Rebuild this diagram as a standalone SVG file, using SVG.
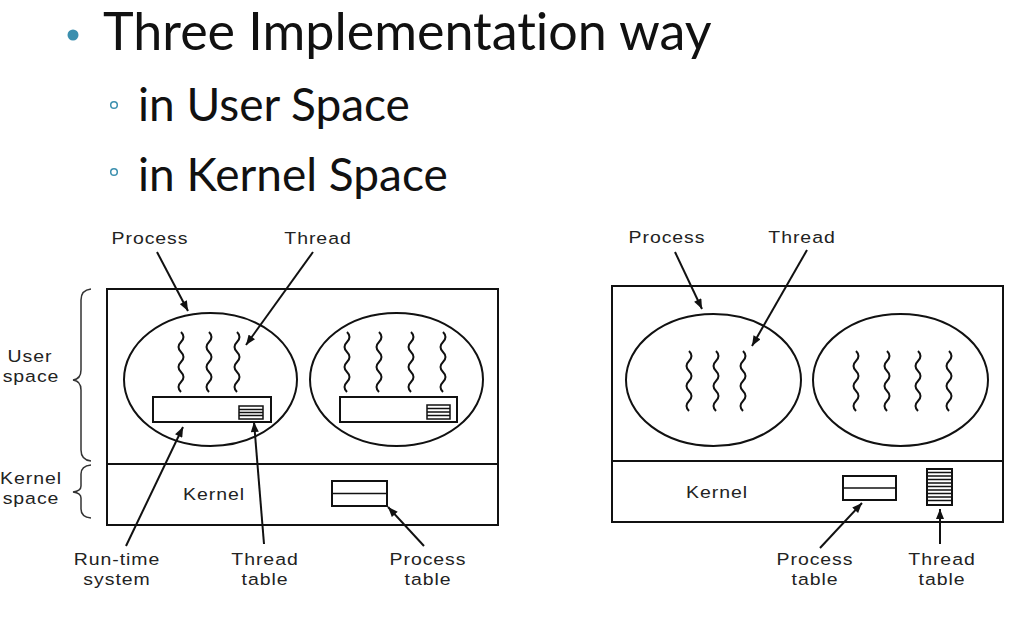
<svg xmlns="http://www.w3.org/2000/svg" width="1027" height="630" viewBox="0 0 1027 630">
  <defs>
    <marker id="arrow" viewBox="0 0 10 8" refX="10" refY="4" markerWidth="11" markerHeight="8" markerUnits="userSpaceOnUse" orient="auto">
      <path d="M0,0 L10,4 L0,8 z" fill="#111"/>
    </marker>
    <!-- one vertical wavy thread, 60px tall -->
    <path id="wave" d="M0,0 q5,5 0,10 t0,10 t0,10 t0,10 t0,10 t0,10" fill="none" stroke="#111" stroke-width="2"/>
  </defs>
  <style>
    .head { font-family: "Lato", "Open Sans", sans-serif; fill: #111; font-variant-ligatures: none; }
    .lbl { font-family: "Liberation Sans", Arial, sans-serif; font-size: 16.5px; letter-spacing: 0.8px; fill: #222; text-anchor: middle; }
    .box { fill: none; stroke: #111; stroke-width: 2; }
    .tbl { fill: #fff; stroke: #111; stroke-width: 2; }
    .thin { fill: none; stroke: #111; stroke-width: 1.5; }
    .conn { fill: none; stroke: #111; stroke-width: 2; marker-end: url(#arrow); }
    .brace { fill: none; stroke: #333; stroke-width: 1.5; }
  </style>
  <rect width="1027" height="630" fill="#fff"/>

  <!-- slide heading -->
  <g id="heading">
    <circle cx="73" cy="35" r="5.5" fill="#3b8fae"/>
    <text class="head" x="103" y="50" font-size="52">Three Implementation way</text>
    <circle cx="114" cy="105" r="3.3" fill="none" stroke="#3b8fae" stroke-width="1.5"/>
    <text class="head" x="138" y="121" font-size="46">in User Space</text>
    <circle cx="114" cy="172" r="3.3" fill="none" stroke="#3b8fae" stroke-width="1.5"/>
    <text class="head" x="138" y="191" font-size="46">in Kernel Space</text>
  </g>

  <!-- user-level threads -->
  <g id="user-model">
    <rect class="box" x="107" y="289" width="391" height="236"/>
    <line class="box" x1="107" y1="464" x2="498" y2="464"/>
    <text class="lbl" transform="translate(214,500) scale(1.18,1)">Kernel</text>
  </g>
  <g id="user-proc1">
    <ellipse class="box" cx="210.5" cy="379.5" rx="86.5" ry="66.5"/>
    <use href="#wave" x="181" y="332"/>
    <use href="#wave" x="209" y="332"/>
    <use href="#wave" x="237" y="332"/>
    <rect class="tbl" x="153" y="397" width="118" height="25"/>
    <rect class="thin" x="239" y="406" width="24" height="13"/>
    <path class="thin" d="M239,409.5 H263 M239,412.5 H263 M239,415.5 H263"/>
  </g>
  <g id="user-proc2">
    <ellipse class="box" cx="396.5" cy="379.5" rx="86.5" ry="66.5"/>
    <use href="#wave" x="347" y="332"/>
    <use href="#wave" x="379" y="332"/>
    <use href="#wave" x="411" y="332"/>
    <use href="#wave" x="443" y="332"/>
    <rect class="tbl" x="340" y="397" width="117" height="25"/>
    <rect class="thin" x="427" y="405" width="23" height="14"/>
    <path class="thin" d="M427,408.5 H450 M427,412 H450 M427,415.5 H450"/>
  </g>
  <g id="user-proctable">
    <rect class="tbl" x="332" y="481" width="55" height="25"/>
    <line class="thin" x1="332" y1="493.5" x2="387" y2="493.5"/>
  </g>
  <g id="user-braces">
    <path class="brace" d="M91,289 Q81,290 81,300 L81,370 Q81,379 73,380 Q81,381 81,390 L81,450 Q81,460 91,461"/>
    <path class="brace" d="M91,465 Q81,466 81,474 L81,486 Q81,491 73,492 Q81,493 81,498 L81,509 Q81,517 91,518"/>
    <text class="lbl" transform="translate(30,362) scale(1.18,1)">User</text>
    <text class="lbl" transform="translate(31,382) scale(1.18,1)">space</text>
    <text class="lbl" transform="translate(31,484) scale(1.18,1)">Kernel</text>
    <text class="lbl" transform="translate(31,504) scale(1.18,1)">space</text>
  </g>
  <g id="user-labels">
    <text class="lbl" transform="translate(150,244) scale(1.18,1)">Process</text>
    <text class="lbl" transform="translate(318,244) scale(1.18,1)">Thread</text>
    <text class="lbl" transform="translate(117,565) scale(1.18,1)">Run-time</text>
    <text class="lbl" transform="translate(117,585) scale(1.18,1)">system</text>
    <text class="lbl" transform="translate(265,565) scale(1.18,1)">Thread</text>
    <text class="lbl" transform="translate(265,585) scale(1.18,1)">table</text>
    <text class="lbl" transform="translate(428,565) scale(1.18,1)">Process</text>
    <text class="lbl" transform="translate(428,585) scale(1.18,1)">table</text>
  </g>

  <!-- kernel-level threads -->
  <g id="kernel-model">
    <rect class="box" x="612" y="286" width="391" height="236"/>
    <line class="box" x1="612" y1="461" x2="1003" y2="461"/>
    <text class="lbl" transform="translate(717,498) scale(1.18,1)">Kernel</text>
  </g>
  <g id="kernel-proc1">
    <ellipse class="box" cx="713.5" cy="380" rx="87.5" ry="66"/>
    <use href="#wave" x="689" y="351"/>
    <use href="#wave" x="716" y="351"/>
    <use href="#wave" x="743" y="351"/>
  </g>
  <g id="kernel-proc2">
    <ellipse class="box" cx="900.5" cy="380" rx="87.5" ry="66"/>
    <use href="#wave" x="856" y="351"/>
    <use href="#wave" x="887" y="351"/>
    <use href="#wave" x="918" y="351"/>
    <use href="#wave" x="949" y="351"/>
  </g>
  <g id="kernel-proctable">
    <rect class="tbl" x="843" y="476" width="53" height="24"/>
    <line class="thin" x1="843" y1="488" x2="896" y2="488"/>
  </g>
  <g id="kernel-threadtable">
    <rect class="tbl" x="927" y="469" width="25" height="36"/>
    <path class="thin" d="M927,472.5 H952 M927,476 H952 M927,479.5 H952 M927,483 H952 M927,486.5 H952 M927,490 H952 M927,493.5 H952 M927,497 H952 M927,500.5 H952"/>
  </g>
  <g id="kernel-labels">
    <text class="lbl" transform="translate(667,243) scale(1.18,1)">Process</text>
    <text class="lbl" transform="translate(802,243) scale(1.18,1)">Thread</text>
    <text class="lbl" transform="translate(815,565) scale(1.18,1)">Process</text>
    <text class="lbl" transform="translate(815,585) scale(1.18,1)">table</text>
    <text class="lbl" transform="translate(942,565) scale(1.18,1)">Thread</text>
    <text class="lbl" transform="translate(942,585) scale(1.18,1)">table</text>
  </g>

  <!-- pointer arrows -->
  <g id="connectors">
    <line class="conn" x1="157" y1="252" x2="188" y2="311"/>
    <line class="conn" x1="313" y1="252" x2="246" y2="345"/>
    <line class="conn" x1="126" y1="546" x2="183" y2="427"/>
    <line class="conn" x1="264" y1="544" x2="254" y2="422"/>
    <line class="conn" x1="424" y1="546" x2="388" y2="507"/>
    <line class="conn" x1="675" y1="252" x2="702" y2="309"/>
    <line class="conn" x1="807" y1="250" x2="752" y2="346"/>
    <line class="conn" x1="820" y1="548" x2="862" y2="503"/>
    <line class="conn" x1="940" y1="544" x2="940" y2="509"/>
  </g>
</svg>
